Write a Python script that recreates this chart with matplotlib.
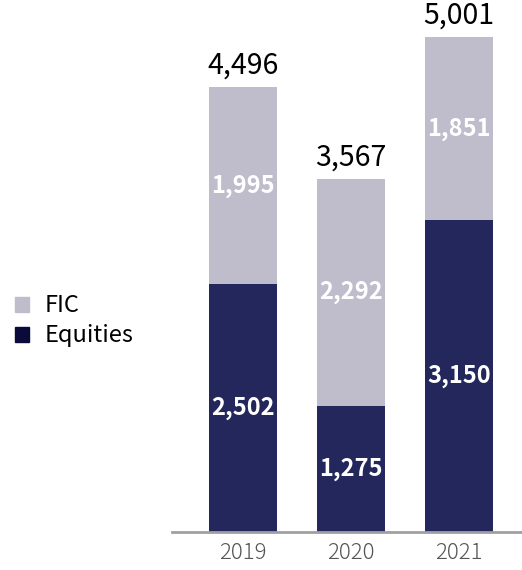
"""Stacked bars: Equities and FIC revenue by year."""

import matplotlib

matplotlib.use("Agg")
import matplotlib.pyplot as plt
import numpy as np
from matplotlib.patches import Patch

plt.rcParams["font.family"] = ["Noto Sans CJK JP", "DejaVu Sans"]

years = ["2019", "2020", "2021"]
equities = [2502, 1275, 3150]
fic = [1995, 2292, 1851]
totals = [4496, 3567, 5001]

EQ_COLOR = "#23275c"
FIC_COLOR = "#bfbdcc"

fig = plt.figure(figsize=(5.22, 5.70), dpi=100)
ax = fig.add_axes([0.3295, 0.0667, 0.6705, 0.9333])

x = np.arange(len(years))
width = 0.63
eq_bars = ax.bar(x, equities, width, color=EQ_COLOR, zorder=2)
fic_bars = ax.bar(x, fic, width, bottom=equities, color=FIC_COLOR, zorder=2)

for i in range(len(years)):
    ax.text(x[i], equities[i] / 2, f"{equities[i]:,}", ha="center", va="center",
            color="white", fontsize=17, fontweight="bold")
    ax.text(x[i], equities[i] + fic[i] / 2, f"{fic[i]:,}", ha="center", va="center",
            color="white", fontsize=17, fontweight="bold")
    ax.text(x[i], totals[i] + 60, f"{totals[i]:,}", ha="center", va="bottom",
            color="black", fontsize=20.5)

ax.set_xlim(-0.657, 2.583)
ax.set_ylim(0, 5374)
for side in ("top", "right", "left"):
    ax.spines[side].set_visible(False)
ax.spines["bottom"].set_color("#a0a0a4")
ax.spines["bottom"].set_linewidth(2)
ax.set_yticks([])
ax.set_xticks(x)
ax.set_xticklabels(years, fontsize=16, color="#555555", fontweight="light")
ax.tick_params(axis="x", length=0, pad=7)

handles = [Patch(color=FIC_COLOR, label="FIC"), Patch(color="#0b0b3b", label="Equities")]
fig.legend(handles=handles, loc="center left", bbox_to_anchor=(0.029, 0.437),
           frameon=False, fontsize=17, handlelength=0.6, handleheight=0.6,
           handletextpad=0.65, labelspacing=0.3, borderpad=0, borderaxespad=0)

fig.savefig("out.png", dpi=100)
